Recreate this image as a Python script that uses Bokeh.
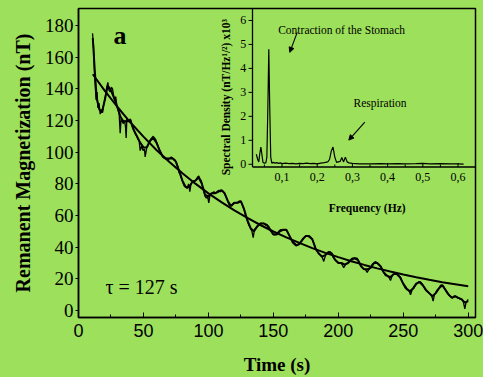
from bokeh.plotting import figure
from bokeh.models import Range1d, Label, Arrow, NormalHead, SingleIntervalTicker
from bokeh.embed import file_html
from bokeh.resources import INLINE

BG = "#9DE05B"

# ---------------- main panel data ----------------
time_raw = [10.8, 11.5, 12.3, 13.0, 13.6, 14.3, 14.9, 15.8, 16.7, 17.6,
            18.5, 19.5, 20.5, 21.5, 22.6, 23.5, 24.4, 25.3, 26.2, 27.0,
            27.7, 28.6, 29.5, 30.4, 31.3, 32.1, 32.8, 33.5, 34.4, 35.4,
            36.2, 36.7, 37.2, 38.1, 39.0, 40.0, 41.0, 42.0, 43.1, 44.0,
            44.9, 45.8, 46.7, 47.5, 48.7, 49.7, 50.8, 51.3, 52.6, 53.5,
            54.4, 55.4, 56.4, 57.5, 58.5, 59.4, 60.3, 61.2, 62.1, 63.1,
            64.1, 65.1, 66.2, 67.4, 68.7, 70.0, 71.4, 72.9, 74.4, 75.4,
            76.4, 77.5, 78.5, 79.8, 81.1, 82.4, 83.7, 84.7, 85.7, 86.6,
            87.5, 88.8, 90.1, 91.4, 92.6, 93.6, 94.5, 95.5, 96.5, 97.5,
            98.5, 99.4, 100.3, 101.2, 102.9, 104.2, 105.5, 106.8, 108.0, 109.3,
            110.6, 111.5, 112.4, 113.5, 114.5, 115.7, 117.0, 118.3, 119.6, 120.9,
            122.2, 123.5, 124.7, 126.0, 127.3, 128.6, 129.9, 131.1, 132.4, 133.5,
            134.5, 135.4, 136.3, 137.5, 138.8, 140.0, 141.4, 142.7, 144.0, 145.3,
            146.5, 147.8, 149.1, 150.4, 151.7, 153.0, 154.2, 155.5, 156.8, 158.1,
            159.4, 160.7, 162.0, 163.2, 164.5, 165.8, 167.1, 168.4, 169.6, 170.9,
            172.2, 173.5, 175.0, 176.5, 178.2, 179.9, 181.5, 183.2, 184.8, 186.3,
            187.5, 188.8, 190.2, 191.5, 192.8, 194.0, 195.2, 196.5, 197.8, 199.2,
            200.5, 201.7, 203.0, 204.2, 205.5, 206.9, 208.1, 209.4, 210.7, 211.9,
            213.2, 214.5, 215.8, 217.1, 218.4, 219.6, 220.9, 222.2, 223.5, 224.8,
            226.0, 227.3, 228.6, 229.9, 231.2, 232.5, 233.8, 235.0, 236.3, 237.6,
            238.9, 240.2, 241.5, 242.7, 244.0, 245.3, 246.6, 247.9, 249.2, 250.4,
            251.7, 253.0, 254.3, 255.6, 256.8, 258.1, 259.4, 260.7, 262.0, 263.3,
            264.5, 265.8, 267.1, 268.4, 269.7, 271.0, 272.0, 273.0, 274.0, 274.8,
            276.1, 277.4, 278.7, 280.0, 281.2, 282.5, 283.8, 285.1, 286.4, 287.7,
            289.0, 290.2, 291.5, 292.8, 294.1, 295.4, 296.4, 297.4, 298.3, 299.2, 300.0]
mag_raw = [175, 168, 150, 140, 133, 138, 128, 131, 124, 127,
           125, 131, 134, 140, 144, 139, 138, 141, 140, 136,
           133, 135, 130, 127, 124, 112, 121, 120, 118, 120,
           116, 109, 121, 119, 120, 121, 117, 115, 113, 111,
           110, 108, 107, 101, 104, 101, 102, 97, 103, 104,
           106, 108, 109, 110, 109, 108, 106, 104, 102, 100,
           98, 97, 96, 96, 95, 96, 97, 96, 95, 93,
           91, 87, 86, 82, 79, 78, 77, 80, 75, 80,
           81, 82, 82, 84, 85, 83, 82, 78, 75, 72,
           71, 72, 68, 73, 74, 75, 74, 75, 76, 75,
           76, 75, 74, 72, 70, 67, 66, 67, 68, 68,
           68, 69, 69, 67, 64, 60, 57, 54, 52, 50,
           46, 51, 52, 53, 54, 55, 55, 55, 54, 54,
           53, 51, 49, 48, 48, 49, 50, 51, 51, 51,
           51, 50, 48, 46, 44, 43, 42, 41, 42, 43,
           44, 46, 47, 47, 46, 45, 42, 38, 36, 35,
           34, 31, 35, 36, 37, 37, 35, 33, 32, 31,
           30, 30, 29, 27, 29, 30, 31, 32, 33, 33,
           33, 33, 31, 29, 27, 26, 26, 24, 26, 27,
           29, 30, 31, 30, 29, 28, 26, 24, 22, 22,
           21, 19, 22, 23, 23, 23, 22, 21, 18, 16,
           14, 13, 13, 10, 13, 14, 16, 17, 18, 18,
           17, 15, 13, 12, 11, 10, 9, 6, 10, 11,
           13, 14, 16, 16, 15, 13, 11, 10, 9, 8,
           9, 9, 8, 8, 7, 7, 5, 1, 5, 6, 7]

time_smooth = [11, 12.5, 14, 16, 18, 20, 22.5, 25, 27.5, 30,
               32.5, 35, 37.5, 40, 42.5, 45, 47.5, 50, 52.5, 55,
               57.5, 60, 62.5, 65, 67.5, 70, 72.5, 75, 77.5, 80,
               82.5, 85, 87.5, 90, 92.5, 95, 97.5, 100, 102.5, 105,
               107.5, 110, 112.5, 115, 117.5, 120, 122.5, 125, 127.5, 130,
               132.5, 135, 137.5, 140, 142.5, 145, 147.5, 150, 152.5, 155,
               157.5, 160, 162.5, 165, 167.5, 170, 172.5, 175, 177.5, 180,
               182.5, 185, 187.5, 190, 192.5, 195, 197.5, 200, 202.5, 205,
               207.5, 210, 212.5, 215, 217.5, 220, 222.5, 225, 227.5, 230,
               232.5, 235, 237.5, 240, 242.5, 245, 247.5, 250, 252.5, 255,
               257.5, 260, 262.5, 265, 267.5, 270, 272.5, 275, 277.5, 280,
               282.5, 285, 287.5, 290, 292.5, 295, 297.5, 300]
mag_smooth = [172, 152, 134, 127, 125, 132, 142, 139, 134, 128,
              122, 119, 120, 120, 114, 110, 106, 103, 103, 107,
              109, 106, 101, 97, 96, 96, 96, 94, 88, 82,
              78, 78, 81, 82, 84, 80, 73, 72, 74, 74,
              75, 76, 74, 69, 66, 68, 68, 69, 64, 57,
              52, 50, 53, 55, 55, 54, 51, 48, 48, 50,
              51, 51, 47, 43, 41, 42, 45, 47, 47, 45,
              39, 36, 34, 35, 37, 36, 32, 30, 30, 29,
              30, 32, 33, 32, 28, 26, 26, 27, 30, 30,
              28, 24, 22, 21, 23, 23, 21, 17, 14, 12,
              14, 17, 18, 16, 13, 11, 9, 11, 14, 16,
              13, 10, 8, 9, 8, 7, 5, 6]

time_fit = [11, 20, 30, 40, 50, 60, 70, 80, 90, 100,
            110, 120, 130, 140, 150, 160, 170, 180, 190, 200,
            210, 220, 230, 240, 250, 260, 270, 280, 290, 300]
mag_fit = [149.2, 139.0, 128.5, 118.7, 109.8, 101.4, 93.8, 86.7, 80.1, 74.0,
           68.4, 63.2, 58.5, 54.0, 49.9, 46.2, 42.7, 39.4, 36.4, 33.7,
           31.1, 28.8, 26.6, 24.6, 22.7, 21.0, 19.4, 17.9, 16.6, 15.3]

panel_letter = "a"
tau_text = "\u03c4 = 127 s"
x_title = "Time (s)"
y_title = "Remanent Magnetization (nT)"

# ---------------- inset (spectrum) data ----------------
freq_hz = [0.027, 0.031, 0.034, 0.037, 0.040, 0.043, 0.046, 0.050, 0.054, 0.057,
           0.060, 0.0625, 0.065, 0.068, 0.071, 0.075, 0.080, 0.085, 0.090, 0.095,
           0.100, 0.110, 0.120, 0.130, 0.140, 0.150, 0.160, 0.170, 0.180, 0.190,
           0.200, 0.210, 0.220, 0.230, 0.235, 0.240, 0.245, 0.250, 0.255, 0.260,
           0.265, 0.270, 0.275, 0.280, 0.285, 0.290, 0.300, 0.310, 0.320, 0.350,
           0.380, 0.400, 0.430, 0.450, 0.480, 0.500, 0.520, 0.550, 0.580, 0.600, 0.616]
density = [0.42, 0.20, 0.10, 0.45, 0.72, 0.40, 0.08, 0.05, 0.06, 0.30,
           2.50, 4.80, 2.50, 0.30, 0.05, 0.08, 0.05, 0.07, 0.04, 0.06,
           0.03, 0.05, 0.03, 0.04, 0.02, 0.04, 0.03, 0.05, 0.03, 0.04,
           0.02, 0.05, 0.07, 0.10, 0.20, 0.55, 0.72, 0.30, 0.08, 0.10,
           0.12, 0.28, 0.10, 0.30, 0.10, 0.06, 0.04, 0.03, 0.02, 0.02,
           0.03, 0.02, 0.03, 0.02, 0.03, 0.04, 0.02, 0.03, 0.02, 0.02, 0.01]

inset_x_ticks = [0.1, 0.2, 0.3, 0.4, 0.5, 0.6]
inset_x_tick_labels = ["0,1", "0,2", "0,3", "0,4", "0,5", "0,6"]
inset_x_minor = [0.05, 0.15, 0.25, 0.35, 0.45, 0.55]
inset_y_ticks = [0, 1, 2, 3, 4, 5, 6]
inset_y_tick_labels = ["0", "1", "2", "3", "4", "5", "6"]
inset_x_title = "Frequency (Hz)"
inset_y_title = "Spectral Density (nT/Hz\u00b9/\u00b2) x10\u00b3"
note_stomach = "Contraction of the Stomach"
note_resp = "Respiration"

# ---------------- layout geometry (page pixels) ----------------
W, H = 483, 377
FL, FT, FR, FB = 78, 8, 475, 318          # frame edges
X_PPU = 1.299                              # main px per second
Y0_PIX, Y_PPU = 311.0, 1.5889              # main: y pixel of 0 nT, px per nT
x_end = (FR - FL) / X_PPU
y_start = -(FB - Y0_PIX) / Y_PPU
y_end = (Y0_PIX - FT) / Y_PPU

# inset calibration: f=0.2 Hz at pixel 316.7, 352 px/Hz ; 0 at y pixel 164.3, 24.05 px/unit
FREF, FREF_PIX, F_PPU = 0.2, 316.7, 352.0
D0_PIX, D_PPU = 164.3, 24.05


def fx(px):
    return FREF + (px - FREF_PIX) / F_PPU


def fy(py):
    return (D0_PIX - py) / D_PPU


FONT_SERIF = "Liberation Serif"
FONT_SANS = "Liberation Sans"

p = figure(width=W, height=H, x_range=Range1d(0, x_end), y_range=Range1d(y_start, y_end),
           output_backend="svg", toolbar_location=None,
           min_border_left=FL, min_border_right=W - FR, min_border_top=FT, min_border_bottom=H - FB)
p.extra_x_ranges = {"fx": Range1d(fx(FL), fx(FR))}
p.extra_y_ranges = {"fy": Range1d(fy(FB), fy(FT))}

p.background_fill_color = BG
p.border_fill_color = BG
p.outline_line_color = "black"
p.outline_line_width = 1.5
p.xgrid.visible = False
p.ygrid.visible = False

# main axes
p.xaxis.ticker = SingleIntervalTicker(interval=50, num_minor_ticks=2)
p.yaxis.ticker = SingleIntervalTicker(interval=20)
for ax in (p.xaxis, p.yaxis):
    ax.axis_line_color = "black"
    ax.axis_line_width = 1.5
    ax.major_tick_line_color = "black"
    ax.major_tick_line_width = 1
    ax.minor_tick_line_color = "black"
    ax.major_label_text_color = "black"
    ax.axis_label_text_color = "black"
    ax.axis_label_text_font = FONT_SERIF
    ax.axis_label_text_font_style = "bold"

p.xaxis.major_tick_in = 5
p.xaxis.major_tick_out = 0
p.xaxis.minor_tick_in = 3
p.xaxis.minor_tick_out = 0
p.xaxis.major_label_text_font = FONT_SANS
p.xaxis.major_label_text_font_size = "18px"
p.xaxis.major_label_standoff = 6
p.xaxis.axis_label = x_title
p.xaxis.axis_label_text_font_size = "19px"
p.xaxis.axis_label_standoff = 14

p.yaxis.major_tick_in = 0
p.yaxis.major_tick_out = 3
p.yaxis.minor_tick_line_color = None
p.yaxis.major_label_text_font = FONT_SERIF
p.yaxis.major_label_text_font_size = "19px"
p.yaxis.major_label_standoff = 1
p.yaxis.axis_label = y_title
p.yaxis.axis_label_text_font_size = "20px"
p.yaxis.axis_label_standoff = 8

# main curves
p.line(time_raw, mag_raw, line_color="black", line_width=1.3)
p.line(time_smooth, mag_smooth, line_color="black", line_width=2.0)
p.line(time_fit, mag_fit, line_color="black", line_width=2.0)

p.add_layout(Label(x=26.9, y=173.7, text=panel_letter, text_font=FONT_SERIF,
                   text_font_size="26px", text_font_style="bold", text_color="black",
                   text_align="left", text_baseline="alphabetic"))
p.add_layout(Label(x=20.8, y=14.9, text=tau_text, text_font=FONT_SERIF,
                   text_font_size="20px", text_color="black",
                   text_align="left", text_baseline="alphabetic"))

# ---------------- inset ----------------
R = dict(x_range_name="fx", y_range_name="fy")
IL = fx(252.0)      # inset left edge
IB = fy(167.0)      # inset bottom edge
I_TOP = fy(FT)
I_RIGHT = fx(FR)

p.segment(x0=[IL, IL], y0=[IB, IB], x1=[IL, I_RIGHT], y1=[I_TOP, IB],
          line_color="black", line_width=1.3, **R)
# y ticks (outside, to the left)
p.segment(x0=[IL - 4 / F_PPU] * len(inset_y_ticks), y0=inset_y_ticks,
          x1=[IL] * len(inset_y_ticks), y1=inset_y_ticks,
          line_color="black", line_width=1, **R)
# x ticks (inside, upward)
p.segment(x0=inset_x_ticks, y0=[IB] * len(inset_x_ticks),
          x1=inset_x_ticks, y1=[IB + 4 / D_PPU] * len(inset_x_ticks),
          line_color="black", line_width=1, **R)
p.segment(x0=inset_x_minor, y0=[IB] * len(inset_x_minor),
          x1=inset_x_minor, y1=[IB + 2.5 / D_PPU] * len(inset_x_minor),
          line_color="black", line_width=1, **R)

p.line(freq_hz, density, line_color="black", line_width=1.2, **R)

for v, lab in zip(inset_y_ticks, inset_y_tick_labels):
    p.add_layout(Label(x=IL - 6.3 / F_PPU, y=v, text=lab, text_font=FONT_SERIF,
                       text_font_size="12px", text_color="black",
                       text_align="right", text_baseline="middle", **R))
for v, lab in zip(inset_x_ticks, inset_x_tick_labels):
    p.add_layout(Label(x=v, y=fy(177.5), text=lab, text_font=FONT_SERIF,
                       text_font_size="12px", text_color="black",
                       text_align="center", text_baseline="middle", **R))

p.add_layout(Label(x=fx(366.7), y=fy(208.3), text=inset_x_title, text_font=FONT_SERIF,
                   text_font_size="11.5px", text_font_style="bold", text_color="black",
                   text_align="center", text_baseline="alphabetic", **R))
p.add_layout(Label(x=fx(225.0), y=fy(97.0), text=inset_y_title, text_font=FONT_SERIF,
                   text_font_size="11.5px", text_font_style="bold", text_color="black",
                   angle=1.5707963, text_align="center", text_baseline="middle", **R))
p.add_layout(Label(x=fx(277.7), y=fy(29.3), text=note_stomach, text_font=FONT_SERIF,
                   text_font_size="11.5px", text_color="black",
                   text_align="left", text_baseline="alphabetic", **R))
p.add_layout(Label(x=fx(353.0), y=fy(102.7), text=note_resp, text_font=FONT_SERIF,
                   text_font_size="11.5px", text_color="black",
                   text_align="left", text_baseline="alphabetic", **R))

p.add_layout(Arrow(end=NormalHead(size=5, fill_color="black", line_color="black"),
                   x_start=fx(296.7), y_start=fy(32.0), x_end=fx(289.3), y_end=fy(52.0),
                   line_color="black", line_width=1.1, **R))
p.add_layout(Arrow(end=NormalHead(size=5, fill_color="black", line_color="black"),
                   x_start=fx(364.3), y_start=fy(122.0), x_end=fx(348.3), y_end=fy(140.0),
                   line_color="black", line_width=1.1, **R))

html = file_html(p, INLINE).replace("</head>", "<style>body{background:%s;}</style></head>" % BG)
open("out.html", "w").write(html)
